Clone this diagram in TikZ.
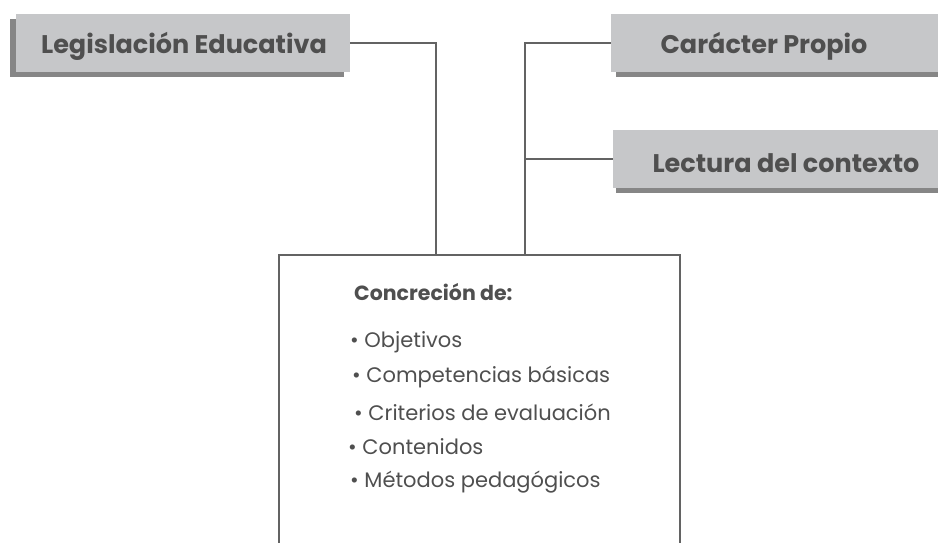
\documentclass[tikz,border=0pt]{standalone}
\usepackage{fontspec}
\setmainfont{Poppins}
\definecolor{boxfill}{HTML}{C6C7C9}
\definecolor{shadowc}{HTML}{868686}
\definecolor{linec}{HTML}{636363}
\definecolor{textc}{HTML}{4F4F4F}
\begin{document}
\begin{tikzpicture}[x=1pt,y=-1pt,
  hbox/.style={rectangle, fill=boxfill, inner sep=0pt},
  htext/.style={text=textc, inner sep=0pt, font=\fontsize{25.5}{30}\selectfont\bfseries},
  conn/.style={draw=linec, line width=2pt},
  item/.style={anchor=west, text=textc, inner sep=0pt, font=\fontsize{21}{25}\selectfont}]
\useasboundingbox (0,0) rectangle (938,542);
% shadows
\fill[shadowc] (10,19) rectangle (344,77);
\fill[shadowc] (616,19) rectangle (938,77);
\fill[shadowc] (616,135) rectangle (938,193);
% boxes
\node[hbox, minimum width=334pt, minimum height=58pt] (leg) at (183,43) {};
\node[hbox, minimum width=327pt, minimum height=58pt] (car) at (774.5,43) {};
\node[hbox, minimum width=325pt, minimum height=58pt] (lec) at (775.5,159) {};
\node[htext] (legt) at (184,46) {Legislación Educativa};
\node[htext] (cart) at (764,46) {Carácter Propio};
\node[htext] (lect) at (786,163) {Lectura del contexto};
% main box
\node[draw=linec, line width=2pt, minimum width=401pt, minimum height=300pt, inner sep=0pt] (main) at (479.5,405) {};
\coordinate (j1) at (436,255);
\coordinate (j2) at (525,255);
\draw[conn] (leg.east) -| (j1);
\draw[conn] (car.west) -| (j2);
\draw[conn] (lec.west) -- (lec.west -| j2);
% contents
\node[anchor=west, text=textc, inner sep=0pt, font=\fontsize{20.5}{24}\selectfont\bfseries] (title) at (354,292) {Concreción de:};
\node[item] (i1) at (350,342) {• Objetivos};
\node[item] (i2) at (352,377) {• Competencias básicas};
\node[item] (i3) at (354,412) {• Criterios de evaluación};
\node[item] (i4) at (348,447) {• Contenidos};
\node[item] (i5) at (350,482) {• Métodos pedagógicos};
\end{tikzpicture}
\end{document}
